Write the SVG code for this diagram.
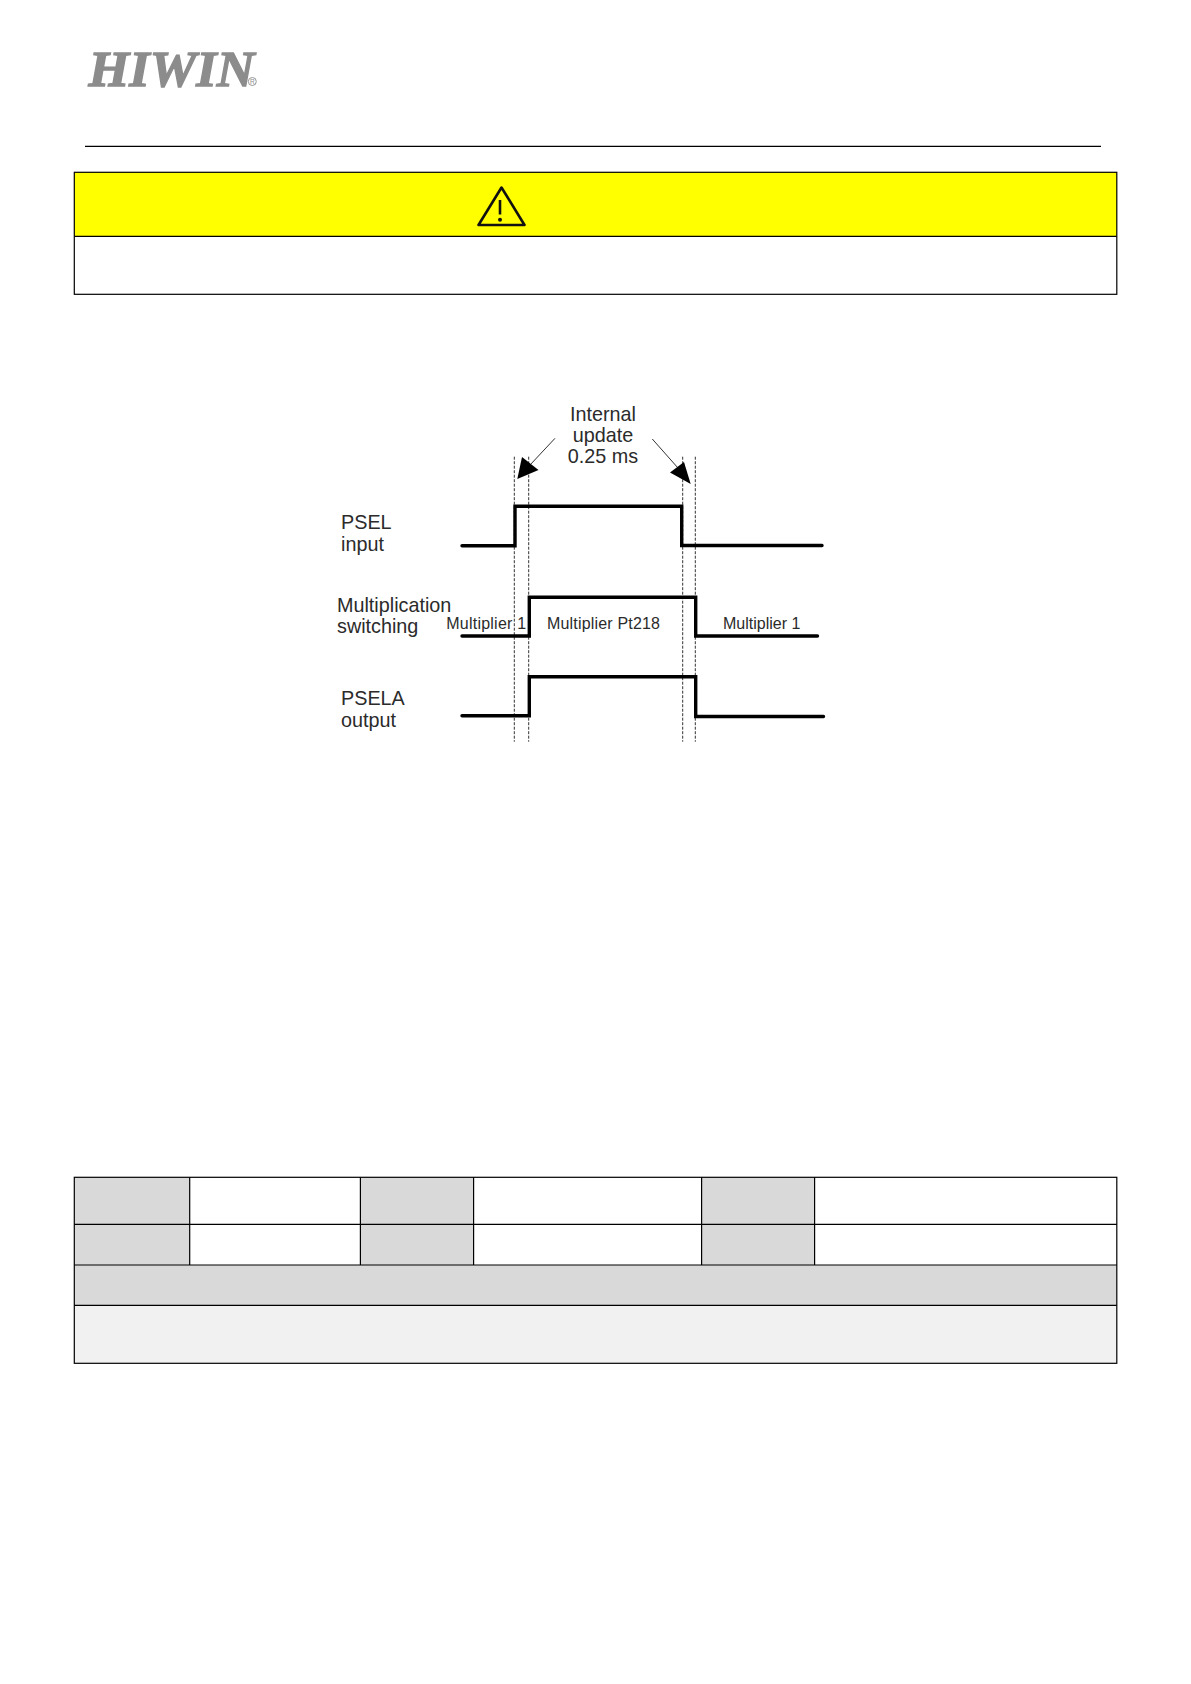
<svg xmlns="http://www.w3.org/2000/svg" width="1191" height="1684" viewBox="0 0 1191 1684">
<style>
text{font-family:"Liberation Sans",Arial,sans-serif;fill:#2b2b2b}
.lb{font-size:19.8px}
.sm{font-size:16px}
.dash{stroke:#333;stroke-width:1;stroke-dasharray:3 1.5;fill:none}
.wave{stroke:#000;stroke-width:3.4;fill:none;stroke-linecap:round;stroke-linejoin:miter}
.grid{stroke:#000;stroke-width:1.2;fill:none}
.hd{fill:#d9d9d9}
</style>
<rect width="1191" height="1684" fill="#fff"/>
<g id="logo">
<text x="88.500" y="85.500" textLength="166" lengthAdjust="spacingAndGlyphs" style="font-family:'Liberation Serif',serif;font-weight:bold;font-style:italic;font-size:51px;fill:#8c8c8c;stroke:#8c8c8c;stroke-width:1.300">HIWIN</text>
<circle cx="252.300" cy="81.500" r="4" fill="#fff" stroke="#8c8c8c" stroke-width="0.900"/>
<text x="252.300" y="84" text-anchor="middle" style="font-size:6.500px;fill:#8c8c8c">R</text>
</g>
<line id="header-rule" x1="85" y1="146.300" x2="1101" y2="146.300" stroke="#000" stroke-width="1.200"/>
<g id="warning-box">
<rect x="74.300" y="172.300" width="1042.500" height="64" fill="#ffff00"/>
<rect x="74.300" y="172.300" width="1042.500" height="122" class="grid"/>
<line x1="74.300" y1="236.300" x2="1116.800" y2="236.300" class="grid"/>
<path d="M501.500 187.500L524.500 225H478.500Z" fill="none" stroke="#111" stroke-width="2.600" stroke-linejoin="round"/>
<line x1="500" y1="200" x2="500" y2="214.500" stroke="#111" stroke-width="2.600"/>
<circle cx="500" cy="219.800" r="2" fill="#111"/>
</g>
<g id="timing-guides">
<line x1="514.300" y1="456.700" x2="514.300" y2="741.700" class="dash"/>
<line x1="528.700" y1="456.700" x2="528.700" y2="741.700" class="dash"/>
<line x1="682.700" y1="456.700" x2="682.700" y2="741.700" class="dash"/>
<line x1="695.300" y1="456.700" x2="695.300" y2="741.700" class="dash"/>
</g>
<g id="internal-update">
<text class="lb" x="603" y="420.700" text-anchor="middle">Internal</text>
<text class="lb" x="603" y="441.700" text-anchor="middle">update</text>
<text class="lb" x="603" y="462.700" text-anchor="middle">0.25 ms</text>
</g>
<g id="connectors">
<line x1="555" y1="438.300" x2="530" y2="465" stroke="#333" stroke-width="1"/>
<path d="M517.300 479L522 457L538.500 470Z" fill="#000"/>
<line x1="652.300" y1="439" x2="678" y2="468" stroke="#333" stroke-width="1"/>
<path d="M690.700 484L670 472.500L684 462Z" fill="#000"/>
</g>
<g id="psel">
<text class="lb" x="341" y="528.700">PSEL</text>
<text class="lb" x="341" y="550.700">input</text>
<path class="wave" d="M462 545.700H515V506.300H681.700V545.500H822"/>
</g>
<g id="multiplication">
<text class="lb" x="337" y="611.700">Multiplication</text>
<text class="lb" x="337" y="632.700">switching</text>
<text class="sm" x="446.200" y="628.700" textLength="80">Multiplier 1</text>
<text class="sm" x="547" y="629.300" textLength="113">Multiplier Pt218</text>
<text class="sm" x="723" y="628.700">Multiplier 1</text>
<path class="wave" d="M462 636H529.300V597.300H695.700V636H817.500"/>
</g>
<g id="psela">
<text class="lb" x="341" y="705">PSELA</text>
<text class="lb" x="341" y="726.700">output</text>
<path class="wave" d="M462 715.700H529.300V676.700H695.700V716.500H823.500"/>
</g>
<g id="table">
<rect x="74.300" y="1177.300" width="115.400" height="87.700" class="hd"/>
<rect x="360.400" y="1177.300" width="113.200" height="87.700" class="hd"/>
<rect x="701.600" y="1177.300" width="113" height="87.700" class="hd"/>
<rect x="74.300" y="1265" width="1042.500" height="40.300" class="hd"/>
<rect x="74.300" y="1305.300" width="1042.500" height="58" fill="#f1f1f1"/>
<rect x="74.300" y="1177.300" width="1042.500" height="186" class="grid"/>
<path class="grid" d="M74.300 1224.300H1116.800M74.300 1265H1116.800M74.300 1305.300H1116.800M189.700 1177.300V1265M360.400 1177.300V1265M473.600 1177.300V1265M701.600 1177.300V1265M814.600 1177.300V1265"/>
</g>
</svg>
